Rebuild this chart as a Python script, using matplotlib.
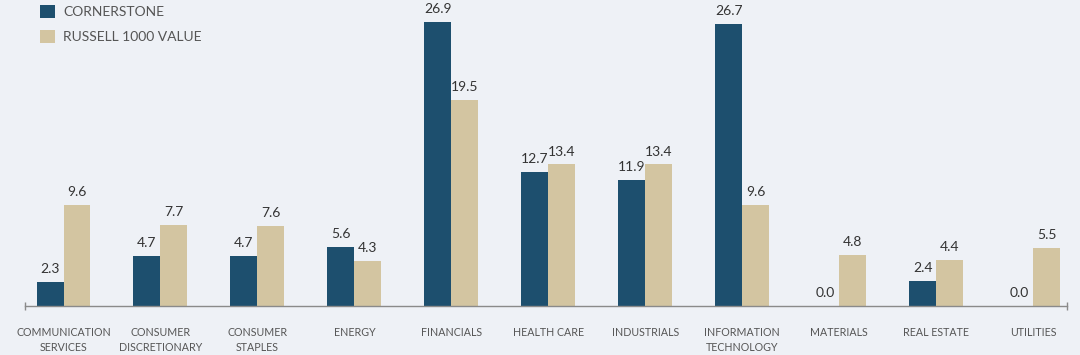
import matplotlib
matplotlib.use("Agg")
import matplotlib.pyplot as plt
from matplotlib.patches import Patch
import numpy as np

categories = ["COMMUNICATION\nSERVICES", "CONSUMER\nDISCRETIONARY", "CONSUMER\nSTAPLES",
              "ENERGY", "FINANCIALS", "HEALTH CARE", "INDUSTRIALS",
              "INFORMATION\nTECHNOLOGY", "MATERIALS", "REAL ESTATE", "UTILITIES"]
cornerstone = [2.3, 4.7, 4.7, 5.6, 26.9, 12.7, 11.9, 26.7, 0.0, 2.4, 0.0]
russell = [9.6, 7.7, 7.6, 4.3, 19.5, 13.4, 13.4, 9.6, 4.8, 4.4, 5.5]
series_names = ["CORNERSTONE", "RUSSELL 1000 VALUE"]

BLUE = "#1d4f6e"
TAN = "#d3c5a1"
BG = "#eef1f6"
TXT = "#555555"

plt.rcParams['font.family'] = ['Lato', 'DejaVu Sans']

fig = plt.figure(figsize=(10.8, 3.55), dpi=100, facecolor=BG)
ax = fig.add_axes([0, 49/355, 1, 306/355], facecolor=BG)

x = np.arange(len(categories))
w = 0.278
b1 = ax.bar(x - w/2, cornerstone, w, color=BLUE)
b2 = ax.bar(x + w/2, russell, w, color=TAN)

for bars, vals in ((b1, cornerstone), (b2, russell)):
    for r, v in zip(bars, vals):
        ax.annotate(f"{v:.1f}", (r.get_x() + r.get_width()/2, r.get_height()),
                    xytext=(0, 5), textcoords="offset points",
                    ha="center", va="bottom", fontsize=10, color="#333333")

step = 96.95
first = 63.5
left_end = (25 - first) / step
right_end = (1067 - first) / step
ax.set_xlim(-first / step, (1080 - first) / step)
ax.set_ylim(0, 306/10.56)

for s in ["top", "right", "left"]:
    ax.spines[s].set_visible(False)
ax.spines["bottom"].set_bounds(left_end, right_end)
ax.spines["bottom"].set_color("#8a8a8a")
ax.spines["bottom"].set_linewidth(1.0)

ax.set_yticks([])
ax.set_xticks(x)
ax.set_xticklabels(categories, fontsize=7.7, color=TXT, linespacing=1.45)
ax.tick_params(axis="x", length=0, pad=15)
ax.set_xticks([left_end, right_end], minor=True)
ax.tick_params(axis="x", which="minor", length=6, direction="inout", color="#8a8a8a", width=1)

handles = [Patch(facecolor=BLUE, label=series_names[0]), Patch(facecolor=TAN, label=series_names[1])]
leg = fig.legend(handles=handles, loc="upper left", bbox_to_anchor=(40/1080, 1 - 5/355),
                 frameon=False, fontsize=10, handlelength=1.1, handleheight=1.1,
                 handletextpad=0.55, labelspacing=0.8, borderaxespad=0, borderpad=0)
for t in leg.get_texts():
    t.set_color(TXT)

fig.savefig("out.png", dpi=100, facecolor=BG)
